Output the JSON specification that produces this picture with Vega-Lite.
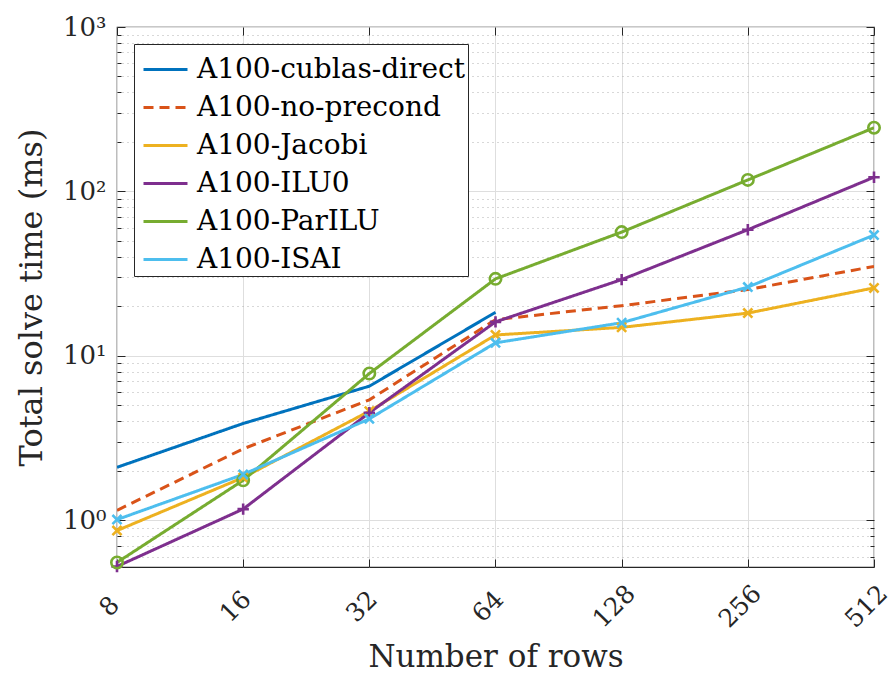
{
  "$schema": "https://vega.github.io/schema/vega-lite/v6.json",
  "width": 757,
  "height": 540,
  "autosize": {"type": "none"},
  "padding": {"left": 117, "top": 27, "right": 19, "bottom": 107},
  "background": "white",
  "config": {
    "font": "DejaVu Serif",
    "view": {"stroke": "#262626", "strokeWidth": 1.2},
    "axis": {"labelColor": "#262626", "titleColor": "#262626", "labelFont": "DejaVu Serif", "titleFont": "DejaVu Serif", "titleFontWeight": "normal", "tickColor": "#262626", "domain": false}
  },
  "data": {
    "values": [
      {"rows": 8, "method": "A100-cublas-direct", "time": 2.10},
      {"rows": 16, "method": "A100-cublas-direct", "time": 3.88},
      {"rows": 32, "method": "A100-cublas-direct", "time": 6.54},
      {"rows": 64, "method": "A100-cublas-direct", "time": 18.4},
      {"rows": 8, "method": "A100-no-precond", "time": 1.15},
      {"rows": 16, "method": "A100-no-precond", "time": 2.72},
      {"rows": 32, "method": "A100-no-precond", "time": 5.4},
      {"rows": 64, "method": "A100-no-precond", "time": 16.6},
      {"rows": 128, "method": "A100-no-precond", "time": 20.2},
      {"rows": 256, "method": "A100-no-precond", "time": 25.3},
      {"rows": 512, "method": "A100-no-precond", "time": 35.0},
      {"rows": 8, "method": "A100-Jacobi", "time": 0.866},
      {"rows": 16, "method": "A100-Jacobi", "time": 1.82},
      {"rows": 32, "method": "A100-Jacobi", "time": 4.61},
      {"rows": 64, "method": "A100-Jacobi", "time": 13.4},
      {"rows": 128, "method": "A100-Jacobi", "time": 14.9},
      {"rows": 256, "method": "A100-Jacobi", "time": 18.2},
      {"rows": 512, "method": "A100-Jacobi", "time": 25.9},
      {"rows": 8, "method": "A100-ILU0", "time": 0.524},
      {"rows": 16, "method": "A100-ILU0", "time": 1.17},
      {"rows": 32, "method": "A100-ILU0", "time": 4.51},
      {"rows": 64, "method": "A100-ILU0", "time": 16.1},
      {"rows": 128, "method": "A100-ILU0", "time": 29.1},
      {"rows": 256, "method": "A100-ILU0", "time": 58.5},
      {"rows": 512, "method": "A100-ILU0", "time": 122},
      {"rows": 8, "method": "A100-ParILU", "time": 0.554},
      {"rows": 16, "method": "A100-ParILU", "time": 1.75},
      {"rows": 32, "method": "A100-ParILU", "time": 7.81},
      {"rows": 64, "method": "A100-ParILU", "time": 29.4},
      {"rows": 128, "method": "A100-ParILU", "time": 56.6},
      {"rows": 256, "method": "A100-ParILU", "time": 117.5},
      {"rows": 512, "method": "A100-ParILU", "time": 244},
      {"rows": 8, "method": "A100-ISAI", "time": 1.01},
      {"rows": 16, "method": "A100-ISAI", "time": 1.90},
      {"rows": 32, "method": "A100-ISAI", "time": 4.14},
      {"rows": 64, "method": "A100-ISAI", "time": 12.0},
      {"rows": 128, "method": "A100-ISAI", "time": 15.9},
      {"rows": 256, "method": "A100-ISAI", "time": 26.2},
      {"rows": 512, "method": "A100-ISAI", "time": 54.3}
    ]
  },
  "layer": [
    {
      "mark": {"type": "line", "strokeWidth": 3, "clip": true},
      "encoding": {
        "x": {
          "field": "rows", "type": "quantitative",
          "scale": {"type": "log", "base": 2, "domain": [8, 512], "nice": false},
          "axis": {
            "title": "Number of rows", "titleFontSize": 31, "titlePadding": 10,
            "values": [8, 16, 32, 64, 128, 256, 512],
            "labelAngle": -45, "labelAlign": "center", "labelBaseline": "middle",
            "labelFontSize": 25, "labelPadding": 47, "labelOffset": -8,
            "tickSize": -8, "grid": true, "gridColor": "#dedede", "gridWidth": 1
          }
        },
        "y": {
          "field": "time", "type": "quantitative",
          "scale": {"type": "log", "domain": [0.52, 1000], "nice": false},
          "axis": {
            "title": "Total solve time (ms)", "titleFontSize": 32, "titlePadding": 14,
            "values": [0.6, 0.7, 0.8, 0.9, 1, 2, 3, 4, 5, 6, 7, 8, 9, 10, 20, 30, 40, 50, 60, 70, 80, 90, 100, 200, 300, 400, 500, 600, 700, 800, 900, 1000],
            "labelExpr": "datum.value == 1 ? '10⁰' : datum.value == 10 ? '10¹' : datum.value == 100 ? '10²' : datum.value == 1000 ? '10³' : ''",
            "labelFontSize": 26, "labelPadding": 19, "labelOverlap": false,
            "tickSize": {"condition": {"test": "indexof([1,10,100,1000], datum.value) >= 0", "value": -8}, "value": -4},
            "grid": true,
            "gridDash": {"condition": {"test": "indexof([1,10,100,1000], datum.value) >= 0", "value": []}, "value": [1, 4]},
            "gridColor": {"condition": {"test": "indexof([1,10,100,1000], datum.value) >= 0", "value": "#dedede"}, "value": "#b0b0b0"}
          }
        },
        "color": {
          "field": "method", "type": "nominal",
          "scale": {
            "domain": ["A100-cublas-direct", "A100-no-precond", "A100-Jacobi", "A100-ILU0", "A100-ParILU", "A100-ISAI"],
            "range": ["#0072BD", "#D95319", "#EDB120", "#7E2F8E", "#77AC30", "#4DBEEE"]
          },
          "legend": {
            "title": null, "orient": "top-left", "offset": 17,
            "symbolType": "stroke", "symbolSize": 1936, "symbolStrokeWidth": 3, "symbolOffset": 6,
            "labelFontSize": 28, "labelFont": "DejaVu Serif", "labelColor": "#000000", "labelOffset": 8,
            "rowPadding": -8, "padding": 2,
            "strokeColor": "#262626", "fillColor": "white", "labelLimit": 400
          }
        },
        "strokeDash": {
          "field": "method", "type": "nominal",
          "scale": {
            "domain": ["A100-cublas-direct", "A100-no-precond", "A100-Jacobi", "A100-ILU0", "A100-ParILU", "A100-ISAI"],
            "range": [[1, 0], [10, 6], [1, 0], [1, 0], [1, 0], [1, 0]]
          },
          "legend": {
            "title": null, "orient": "top-left", "offset": 17,
            "symbolType": "stroke", "symbolSize": 1936, "symbolStrokeWidth": 3, "symbolOffset": 6,
            "labelFontSize": 28, "labelFont": "DejaVu Serif", "labelColor": "#000000", "labelOffset": 8,
            "rowPadding": -8, "padding": 2,
            "strokeColor": "#262626", "fillColor": "white", "labelLimit": 400
          }
        }
      }
    },
    {
      "transform": [{"filter": "datum.method != 'A100-cublas-direct' && datum.method != 'A100-no-precond'"}],
      "mark": {"type": "point", "filled": false, "strokeWidth": 2.6, "size": 130, "opacity": 1, "clip": false},
      "encoding": {
        "x": {"field": "rows", "type": "quantitative", "axis": null},
        "y": {"field": "time", "type": "quantitative", "axis": null},
        "color": {"field": "method", "type": "nominal", "legend": null},
        "shape": {
          "field": "method", "type": "nominal", "legend": null,
          "scale": {
            "domain": ["A100-Jacobi", "A100-ILU0", "A100-ParILU", "A100-ISAI"],
            "range": ["M-0.8,-0.8L0.8,0.8M-0.8,0.8L0.8,-0.8", "M-1,0H1M0,-1V1", "circle", "M-0.8,-0.8L0.8,0.8M-0.8,0.8L0.8,-0.8"]
          }
        }
      }
    },
    {
      "mark": {"type": "point", "opacity": 0},
      "encoding": {
        "x": {
          "field": "rows", "type": "quantitative",
          "axis": {"orient": "top", "values": [8, 16, 32, 64, 128, 256, 512], "labels": false, "title": null, "tickSize": -8, "grid": false}
        },
        "y": {
          "field": "time", "type": "quantitative",
          "axis": {
            "orient": "right", "title": null, "labels": false, "grid": false,
            "values": [0.6, 0.7, 0.8, 0.9, 1, 2, 3, 4, 5, 6, 7, 8, 9, 10, 20, 30, 40, 50, 60, 70, 80, 90, 100, 200, 300, 400, 500, 600, 700, 800, 900, 1000],
            "tickSize": {"condition": {"test": "indexof([1,10,100,1000], datum.value) >= 0", "value": -8}, "value": -4}
          }
        }
      }
    }
  ],
  "resolve": {"axis": {"x": "independent", "y": "independent"}}
}
